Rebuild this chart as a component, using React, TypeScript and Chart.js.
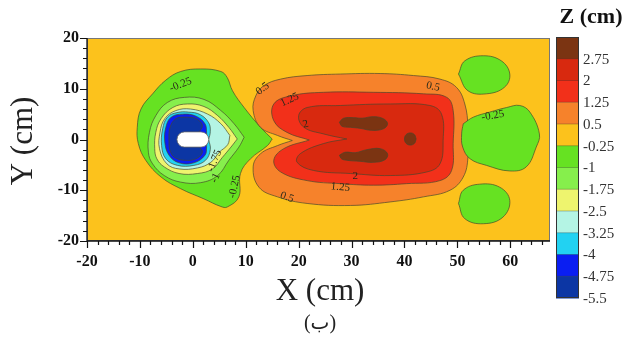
import React, { useEffect, useRef } from "react";
import { Chart, registerables } from "chart.js";

Chart.register(...registerables);

// ---------- axes ----------
const xTicks = [-20, -10, 0, 10, 20, 30, 40, 50, 60];
const yTicks = [-20, -10, 0, 10, 20];
const xRange = [-20, 67.5];
const yRange = [-20, 20];

// ---------- colour scale (top → bottom) ----------
const levelLabels = ["2.75", "2", "1.25", "0.5", "-0.25", "-1", "-1.75", "-2.5", "-3.25", "-4", "-4.75", "-5.5"];
const bandColors = [
  "#7B3412", // > 2.75
  "#D8290F", // 2 .. 2.75
  "#F2301A", // 1.25 .. 2
  "#F6822B", // 0.5 .. 1.25
  "#FCC21C", // -0.25 .. 0.5
  "#66E222", // -1 .. -0.25
  "#86EF4C", // -1.75 .. -1
  "#EEF46E", // -2.5 .. -1.75
  "#B4F4E4", // -3.25 .. -2.5
  "#22D2F2", // -4 .. -3.25
  "#0A1EF2", // -4.75 .. -4
  "#0C36A4", // -5.5 .. -4.75
];

// ---------- contour lines (x, y in cm) ----------
const contourNeg025Pier = [
  [15.0, 0.1], [12.8, 2.4], [9.7, 6.3], [7.5, 9.6], [6.5, 12.2], [5.3, 13.4], [1.5, 13.9], [-2.3, 13.4],
  [-5.1, 11.7], [-7.6, 9.0], [-9.8, 6.0], [-10.5, 2.4], [-10.3, -0.8], [-8.9, -4.1], [-6.0, -7.4],
  [-2.3, -9.7], [2.1, -11.7], [5.3, -13.2], [6.5, -13.3], [8.7, -11.3], [9.0, -6.7], [10.9, -3.8], [14.1, -1.2],
];
const contourNeg1 = [
  [9.7, 0.45], [7.8, 3.1], [5.3, 5.7], [2.1, 7.9], [-1.6, 8.3], [-4.8, 7.3], [-7.0, 4.7], [-8.2, 1.4],
  [-8.4, -2.5], [-7.6, -4.8], [-5.4, -7.1], [-2.3, -8.4], [1.5, -8.5], [4.7, -7.1], [6.8, -4.1], [8.7, -1.5],
];
const contourNeg175 = [
  [8.4, 0.1], [6.8, 2.4], [4.7, 4.7], [2.1, 6.5], [-1.0, 7.0], [-3.8, 6.3], [-6.0, 4.1], [-7.0, 1.4],
  [-7.2, -1.8], [-6.8, -3.8], [-5.4, -5.4], [-2.6, -6.7], [0.9, -6.7], [3.7, -5.8], [5.6, -3.5], [7.2, -1.5],
];
const contourNeg25 = [
  [7.0, 0.8], [5.3, 3.1], [2.8, 5.0], [-0.4, 6.0], [-3.2, 5.7], [-5.3, 4.1], [-6.2, 1.4], [-6.3, -1.8],
  [-4.9, -4.8], [-2.6, -5.8], [0.9, -5.6], [3.4, -4.5], [5.0, -2.5], [6.6, -1.0],
];
const contourNeg325 = [
  [3.0, 0.0], [3.3, 1.6], [3.0, 3.3], [1.4, 4.9], [-0.8, 5.4], [-3.0, 5.3], [-4.8, 4.4], [-5.7, 2.1],
  [-5.9, -1.2], [-5.1, -3.8], [-2.9, -5.1], [0.2, -5.1], [2.4, -4.1], [3.3, -2.0],
];
const contourNeg4 = [
  [2.6, 0.0], [2.6, 1.4], [2.3, 3.1], [0.6, 4.6], [-1.9, 5.0], [-4.1, 4.4], [-5.1, 2.4], [-5.3, -0.5],
  [-4.5, -3.1], [-2.6, -4.6], [0.2, -4.6], [2.3, -3.1], [2.6, -1.4],
];
const contourNeg475 = [
  [1.0, 1.2], [1.8, 2.8], [0.6, 4.1], [-1.3, 4.4], [-3.2, 4.1], [-4.3, 2.4], [-4.5, -0.5], [-4.3, -2.2],
  [-3.5, -3.5], [-1.6, -4.1], [0.6, -3.8], [1.8, -2.5], [1.2, -1.2],
];
const contour05 = [
  [18.8, -0.2], [16.0, 0.8], [12.8, 2.4], [11.4, 5.7], [11.9, 8.6], [13.4, 10.6], [16.6, 11.9], [21.6, 12.6],
  [27.9, 12.9], [35.4, 13.0], [41.7, 12.6], [46.7, 11.9], [49.8, 10.3], [51.4, 7.0], [52.0, 2.4], [52.0, -3.5],
  [51.1, -7.4], [48.6, -10.0], [43.6, -11.3], [37.3, -12.3], [29.8, -13.0], [21.6, -12.6], [16.0, -11.3],
  [12.5, -9.4], [11.4, -5.4], [12.8, -2.8], [16.0, -1.2],
];
const contour125 = [
  [22.0, -0.1], [17.8, 1.4], [15.3, 3.7], [15.3, 7.0], [18.5, 8.6], [24.7, 9.3], [34.1, 9.3], [43.6, 9.0],
  [48.0, 8.3], [49.2, 5.7], [49.2, -0.8], [48.9, -6.1], [46.7, -8.1], [40.4, -8.7], [34.1, -9.0], [27.9, -8.7],
  [21.6, -8.1], [16.6, -6.4], [15.3, -4.1], [17.2, -1.8],
];
const contour2 = [
  [29.1, 0.1], [24.7, 1.1], [21.0, 2.4], [20.0, 4.7], [21.6, 6.3], [27.9, 6.7], [37.3, 7.0], [44.8, 6.7],
  [47.0, 5.0], [47.3, -0.2], [46.7, -4.8], [44.2, -6.4], [37.3, -7.1], [29.8, -6.7], [22.8, -6.1],
  [19.7, -4.5], [20.3, -2.8], [24.7, -0.8],
];
const contour275Upper = [
  [27.7, 3.4], [28.5, 4.2], [30.4, 4.3], [32.0, 4.2], [34.1, 4.5], [36.0, 4.1], [36.8, 3.1], [36.0, 2.1],
  [33.8, 1.8], [31.6, 2.2], [29.8, 2.4], [28.2, 2.6],
];
const contour275Lower = [
  [27.7, -3.1], [28.8, -2.5], [30.7, -2.6], [32.9, -2.0], [35.4, -1.8], [36.8, -2.8], [36.3, -4.0],
  [34.1, -4.5], [31.6, -4.3], [29.1, -4.1], [28.1, -3.8],
];
const contour275Spot = [
  [42.2, 0.1], [41.9, 0.95], [41.1, 1.3], [40.3, 0.95], [40.0, 0.1], [40.3, -0.75], [41.1, -1.1], [41.9, -0.75],
];
const contourNeg025Top = [
  [50.2, 12.9], [51.4, 15.5], [54.9, 16.5], [58.3, 15.5], [59.9, 12.9], [58.9, 10.3], [55.5, 9.0], [52.0, 9.6],
];
const contourNeg025Mid = [
  [51.1, 3.1], [53.0, 4.4], [56.1, 5.4], [59.3, 6.3], [61.8, 6.7], [63.7, 5.4], [65.5, 1.1], [64.9, -1.5],
  [63.0, -5.4], [59.9, -6.2], [55.5, -5.1], [52.4, -3.8], [51.0, -1.5], [50.8, 1.1],
];
const contourNeg025Bottom = [
  [50.2, -12.6], [51.1, -10.0], [54.2, -8.8], [58.0, -9.4], [59.9, -12.0], [58.6, -15.3], [54.9, -16.6], [51.4, -15.6],
];

// pier (obstacle) extent in cm
const pierX = [-3, 3];
const pierY = [-1.5, 1.5];

// contour labels: text, x, y (cm), angle (deg)
const contourLabels = [
  { text: "-0.25", x: -2.3, y: 10.8, a: -22 },
  { text: "-1.75", x: 4.1, y: -4.2, a: -68 },
  { text: "-1", x: 4.3, y: -7.6, a: -65 },
  { text: "-0.25", x: 7.9, y: -9.3, a: -78 },
  { text: "0.5", x: 13.2, y: 10.0, a: -38 },
  { text: "1.25", x: 18.3, y: 7.8, a: -25 },
  { text: "2", x: 21.3, y: 3.0, a: -15 },
  { text: "0.5", x: 45.4, y: 10.4, a: 12 },
  { text: "2", x: 30.7, y: -7.3, a: 0 },
  { text: "1.25", x: 27.9, y: -9.4, a: 5 },
  { text: "0.5", x: 17.8, y: -11.4, a: 20 },
  { text: "-0.25", x: 56.7, y: 4.7, a: -10 },
];

// layers in drawing order with colour band index
const layers = [
  { pts: contourNeg025Pier, band: 5 },
  { pts: contourNeg1, band: 6 },
  { pts: contourNeg175, band: 7 },
  { pts: contourNeg25, band: 8 },
  { pts: contourNeg325, band: 9 },
  { pts: contourNeg4, band: 10 },
  { pts: contourNeg475, band: 11 },
  { pts: contour05, band: 3 },
  { pts: contour125, band: 2 },
  { pts: contour2, band: 1 },
  { pts: contour275Upper, band: 0 },
  { pts: contour275Lower, band: 0 },
  { pts: contour275Spot, band: 0 },
  { pts: contourNeg025Top, band: 5 },
  { pts: contourNeg025Mid, band: 5 },
  { pts: contourNeg025Bottom, band: 5 },
];

const SERIF = "'Liberation Serif', 'Times New Roman', serif";

export default function App() {
  const ref = useRef<HTMLCanvasElement | null>(null);

  useEffect(() => {
    if (!ref.current) return;
    document.body.style.margin = "0";

    const datasets = layers.map((l, i) => {
      const data = l.pts.map(([x, y]) => ({ x, y }));
      data.push({ x: l.pts[0][0], y: l.pts[0][1] });
      return {
        data,
        backgroundColor: bandColors[l.band],
        borderColor: "rgba(70,70,45,0.85)",
        borderWidth: 0.8,
        fill: "shape",
        tension: 0.4,
        pointRadius: 0,
        order: layers.length - i,
      } as any;
    });

    const decor = {
      id: "decor",
      beforeDraw(chart: any) {
        const { ctx, chartArea: a } = chart;
        ctx.save();
        ctx.fillStyle = bandColors[4];
        ctx.fillRect(a.left, a.top, a.right - a.left, a.bottom - a.top);
        ctx.restore();
      },
      afterDatasetsDraw(chart: any) {
        const { ctx, chartArea: a } = chart;
        const xs = chart.scales.x;
        const ys = chart.scales.y;
        ctx.save();
        ctx.beginPath();
        ctx.rect(a.left, a.top, a.right - a.left, a.bottom - a.top);
        ctx.clip();
        // pier
        const x0 = xs.getPixelForValue(pierX[0]);
        const x1 = xs.getPixelForValue(pierX[1]);
        const y0 = ys.getPixelForValue(pierY[1]);
        const y1 = ys.getPixelForValue(pierY[0]);
        const r = (y1 - y0) / 2;
        ctx.beginPath();
        ctx.moveTo(x0 + r, y0);
        ctx.lineTo(x1 - r, y0);
        ctx.arc(x1 - r, y0 + r, r, -Math.PI / 2, Math.PI / 2);
        ctx.lineTo(x0 + r, y1);
        ctx.arc(x0 + r, y0 + r, r, Math.PI / 2, (3 * Math.PI) / 2);
        ctx.closePath();
        ctx.fillStyle = "#ffffff";
        ctx.fill();
        ctx.strokeStyle = "#666";
        ctx.lineWidth = 0.8;
        ctx.stroke();
        // contour labels
        ctx.fillStyle = "#2a2a1a";
        ctx.font = `11px ${SERIF}`;
        ctx.textAlign = "center";
        ctx.textBaseline = "middle";
        for (const lb of contourLabels) {
          ctx.save();
          ctx.translate(xs.getPixelForValue(lb.x), ys.getPixelForValue(lb.y));
          ctx.rotate((lb.a * Math.PI) / 180);
          ctx.fillText(lb.text, 0, 0);
          ctx.restore();
        }
        ctx.restore();
      },
      afterDraw(chart: any) {
        const { ctx, chartArea: a } = chart;
        const xs = chart.scales.x;
        const ys = chart.scales.y;
        ctx.save();
        // frame
        ctx.strokeStyle = "#777";
        ctx.lineWidth = 1;
        ctx.strokeRect(a.left + 0.5, a.top + 0.5, a.right - a.left - 1, a.bottom - a.top - 1);
        // axis lines
        ctx.strokeStyle = "#111";
        ctx.lineWidth = 1.3;
        ctx.beginPath();
        ctx.moveTo(a.left, a.top);
        ctx.lineTo(a.left, a.bottom);
        ctx.lineTo(a.right, a.bottom);
        ctx.stroke();
        // ticks
        ctx.lineWidth = 1.2;
        ctx.beginPath();
        for (let v = xRange[0]; v <= xRange[1]; v += 2) {
          const px = Math.round(xs.getPixelForValue(v)) + 0.5;
          const len = v % 10 === 0 ? 7 : 4;
          ctx.moveTo(px, a.bottom);
          ctx.lineTo(px, a.bottom + len);
        }
        for (let v = yRange[0]; v <= yRange[1]; v += 2) {
          const py = Math.round(ys.getPixelForValue(v)) + 0.5;
          const len = v % 10 === 0 ? 7 : 4;
          ctx.moveTo(a.left, py);
          ctx.lineTo(a.left - len, py);
        }
        ctx.stroke();

        // colour bar
        const cbL = 556, cbR = 579, cbT = 37, cbB = 298;
        const h = (cbB - cbT) / bandColors.length;
        bandColors.forEach((c, i) => {
          ctx.fillStyle = c;
          ctx.fillRect(cbL, cbT + i * h, cbR - cbL, h + 0.5);
        });
        ctx.strokeStyle = "rgba(40,40,40,0.5)";
        ctx.lineWidth = 0.6;
        ctx.beginPath();
        for (let i = 1; i < bandColors.length; i++) {
          ctx.moveTo(cbL, cbT + i * h);
          ctx.lineTo(cbR, cbT + i * h);
        }
        ctx.stroke();
        ctx.strokeStyle = "#333";
        ctx.lineWidth = 1;
        ctx.strokeRect(cbL + 0.5, cbT + 0.5, cbR - cbL - 1, cbB - cbT - 1);
        ctx.fillStyle = "#333";
        ctx.font = `15px ${SERIF}`;
        ctx.textAlign = "left";
        ctx.textBaseline = "middle";
        levelLabels.forEach((t, i) => {
          ctx.fillText(t, 583, cbT + (i + 1) * h + 1);
        });
        ctx.fillStyle = "#111";
        ctx.font = `bold 22px ${SERIF}`;
        ctx.textAlign = "center";
        ctx.fillText("Z (cm)", 591, 17);

        // axis titles
        ctx.fillStyle = "#222";
        ctx.font = `31px ${SERIF}`;
        ctx.textAlign = "center";
        ctx.textBaseline = "middle";
        ctx.fillText("X (cm)", 320, 292);
        ctx.save();
        ctx.translate(24, 141);
        ctx.rotate(-Math.PI / 2);
        ctx.fillText("Y (cm)", 0, 0);
        ctx.restore();
        ctx.font = `20px ${SERIF}, 'DejaVu Sans'`;
        ctx.fillText("(ب)", 320, 324);
        ctx.restore();
      },
    };

    const tickFont = { family: SERIF, size: 16, weight: "bold" as const };

    const chart = new Chart(ref.current, {
      type: "line",
      data: { datasets },
      options: {
        responsive: false,
        animation: false,
        devicePixelRatio: 1,
        layout: { padding: { left: 0, right: 85, top: 38, bottom: 0 } },
        plugins: { legend: { display: false }, tooltip: { enabled: false } },
        scales: {
          x: {
            type: "linear",
            min: xRange[0],
            max: xRange[1],
            afterBuildTicks: (s: any) => {
              s.ticks = xTicks.map((v) => ({ value: v }));
            },
            afterFit: (s: any) => {
              s.height = 103;
            },
            grid: { display: false, drawTicks: false },
            border: { display: false },
            ticks: { font: tickFont, color: "#111", padding: 11, maxRotation: 0, autoSkip: false },
          },
          y: {
            type: "linear",
            min: yRange[0],
            max: yRange[1],
            afterBuildTicks: (s: any) => {
              s.ticks = yTicks.map((v) => ({ value: v }));
            },
            afterFit: (s: any) => {
              s.width = 87;
            },
            grid: { display: false, drawTicks: false },
            border: { display: false },
            ticks: { font: tickFont, color: "#111", padding: 8, autoSkip: false },
          },
        },
      } as any,
      plugins: [decor],
    });
    return () => chart.destroy();
  }, []);

  return (
    <div style={{ position: "fixed", left: 0, top: 0, width: 635, height: 344, background: "#fff" }}>
      <canvas ref={ref} width={635} height={344} style={{ display: "block" }} />
    </div>
  );
}
